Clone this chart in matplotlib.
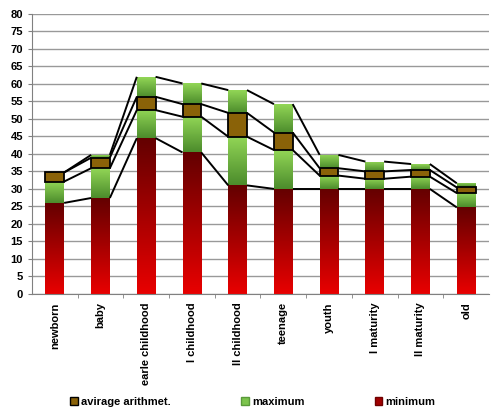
import numpy as np
import matplotlib.pyplot as plt
from matplotlib.colors import LinearSegmentedColormap
from matplotlib.patches import Patch

plt.rcParams["font.family"] = ["Liberation Sans", "DejaVu Sans"]
plt.rcParams["font.weight"] = "bold"

categories = ["newborn", "baby", "earle childhood", "I childhood", "II childhood",
              "teenage", "youth", "I maturity", "II maturity", "old"]
# boundary levels of the stacked segments
minimum = [26.0, 27.4, 44.5, 40.4, 31.0, 30.0, 30.0, 30.0, 30.0, 24.7]
avg_low = [32.1, 35.9, 52.5, 50.6, 44.9, 41.1, 33.8, 32.9, 33.5, 28.8]
avg_high = [34.7, 38.9, 56.3, 54.2, 51.7, 46.1, 35.9, 35.0, 35.4, 30.4]
maximum = [34.7, 39.7, 62.0, 60.1, 58.2, 54.2, 39.7, 37.8, 37.1, 31.6]

x = np.arange(len(categories))
width = 0.41

fig = plt.figure(figsize=(4.91, 4.17), dpi=100)
ax = fig.add_axes([0.065, 0.295, 0.931, 0.672])

red_cmap = LinearSegmentedColormap.from_list("red", ["#e80000", "#640000"])
green_cmap = LinearSegmentedColormap.from_list("green", ["#4c8c2c", "#92d656"])
grad = np.linspace(0, 1, 64).reshape(-1, 1)


def gradient_bars(bottoms, tops, cmap=None, color=None, edge="none"):
    bottoms = np.asarray(bottoms)
    tops = np.asarray(tops)
    bars = ax.bar(x, tops - bottoms, bottom=bottoms, width=width,
                  facecolor=color if color else "none", edgecolor=edge,
                  linewidth=1.3, zorder=3)
    if cmap is not None:
        for p in bars.patches:
            if p.get_height() <= 0:
                continue
            x0, y0 = p.get_x(), p.get_y()
            im = ax.imshow(grad, cmap=cmap, origin="lower", aspect="auto",
                           extent=[x0, x0 + p.get_width(), y0, y0 + p.get_height()],
                           zorder=2)
            im.set_clip_path(p)
    return bars


gradient_bars(np.zeros(len(x)), minimum, cmap=red_cmap)
gradient_bars(minimum, avg_low, cmap=green_cmap)
gradient_bars(avg_low, avg_high, color="#8a6208", edge="black")
gradient_bars(avg_high, maximum, cmap=green_cmap)

# series lines between neighbouring bars
for level in (minimum, avg_low, avg_high, maximum):
    for i in range(len(x) - 1):
        ax.plot([x[i] + width / 2, x[i + 1] - width / 2], [level[i], level[i + 1]],
                color="black", lw=1.4, zorder=4, solid_capstyle="butt")

ax.set_xlim(-0.5, len(x) - 0.5)
ax.set_ylim(0, 80)
ax.set_yticks(np.arange(0, 81, 5))
ax.set_xticks(x)
ax.set_xticklabels(categories, rotation=90, fontsize=8)
ax.tick_params(axis="y", labelsize=8, length=3, color="#808080")
ax.tick_params(axis="x", length=0, pad=6)
ax.set_xticks(np.arange(0.5, len(x) - 0.5, 1), minor=True)
ax.tick_params(axis="x", which="minor", length=3, color="#808080")
ax.grid(axis="y", color="#999999", lw=1.0, zorder=0)
ax.set_axisbelow(True)
for s in ("top", "right"):
    ax.spines[s].set_visible(False)
for s in ("left", "bottom"):
    ax.spines[s].set_color("#808080")

handles = [Patch(facecolor="#8a6208", edgecolor="black", label="avirage arithmet."),
           Patch(facecolor="#7cc44c", edgecolor="#5a9a3a", label="maximum"),
           Patch(facecolor="#a00000", edgecolor="#700000", label="minimum")]
fig.legend(handles=handles, loc="center", bbox_to_anchor=(0.515, 0.036), ncol=3,
           frameon=False, fontsize=8, handlelength=0.7, handleheight=0.7,
           handletextpad=0.3, columnspacing=6.3)

fig.savefig("out.png", dpi=100)
